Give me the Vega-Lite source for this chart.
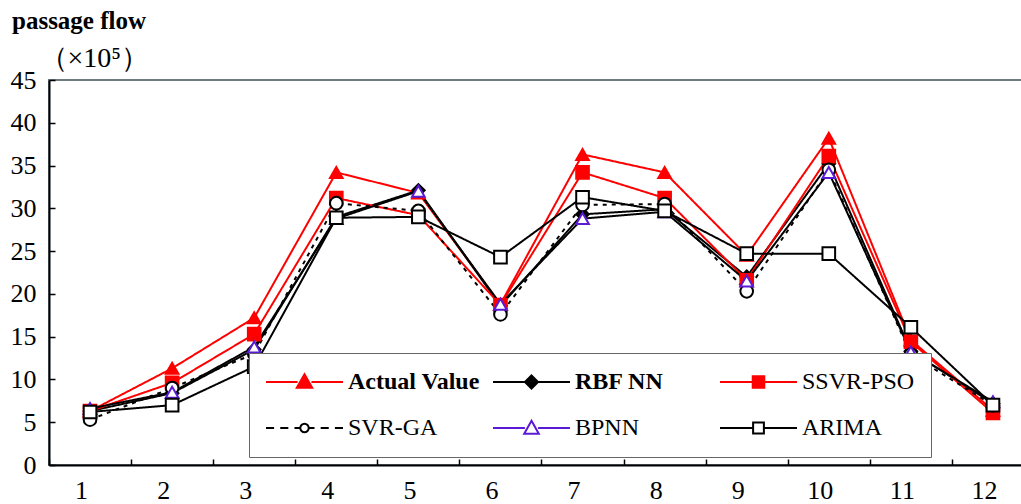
{
  "$schema": "https://vega.github.io/schema/vega-lite/v6.json",
  "width": 985,
  "height": 385,
  "autosize": "none",
  "padding": {"left": 49, "top": 80, "right": 0, "bottom": 39},
  "background": "white",
  "title": {"text": "passage flow", "anchor": "start", "frame": "group", "dx": -37, "offset": 10, "font": "Liberation Serif", "fontSize": 25, "fontWeight": "bold", "color": "black"},
  "config": {"view": {"stroke": "#6e7b80", "strokeWidth": 2}, "font": "Liberation Serif"},
  "data": {"values": [
    {"period": 1, "model": "Actual Value", "flow": 6.3}, {"period": 2, "model": "Actual Value", "flow": 11.3}, {"period": 3, "model": "Actual Value", "flow": 17.2}, {"period": 4, "model": "Actual Value", "flow": 34.2}, {"period": 5, "model": "Actual Value", "flow": 31.8}, {"period": 6, "model": "Actual Value", "flow": 18.8}, {"period": 7, "model": "Actual Value", "flow": 36.3}, {"period": 8, "model": "Actual Value", "flow": 34.2}, {"period": 9, "model": "Actual Value", "flow": 24.5}, {"period": 10, "model": "Actual Value", "flow": 38.2}, {"period": 11, "model": "Actual Value", "flow": 14.6}, {"period": 12, "model": "Actual Value", "flow": 6.4},
    {"period": 1, "model": "RBF NN", "flow": 6.3}, {"period": 2, "model": "RBF NN", "flow": 8.4}, {"period": 3, "model": "RBF NN", "flow": 13.5}, {"period": 4, "model": "RBF NN", "flow": 29.0}, {"period": 5, "model": "RBF NN", "flow": 32.1}, {"period": 6, "model": "RBF NN", "flow": 18.6}, {"period": 7, "model": "RBF NN", "flow": 29.3}, {"period": 8, "model": "RBF NN", "flow": 29.9}, {"period": 9, "model": "RBF NN", "flow": 22.0}, {"period": 10, "model": "RBF NN", "flow": 35.2}, {"period": 11, "model": "RBF NN", "flow": 13.3}, {"period": 12, "model": "RBF NN", "flow": 7.2},
    {"period": 1, "model": "SSVR-PSO", "flow": 6.3}, {"period": 2, "model": "SSVR-PSO", "flow": 9.6}, {"period": 3, "model": "SSVR-PSO", "flow": 15.3}, {"period": 4, "model": "SSVR-PSO", "flow": 31.2}, {"period": 5, "model": "SSVR-PSO", "flow": 29.2}, {"period": 6, "model": "SSVR-PSO", "flow": 18.7}, {"period": 7, "model": "SSVR-PSO", "flow": 34.2}, {"period": 8, "model": "SSVR-PSO", "flow": 31.2}, {"period": 9, "model": "SSVR-PSO", "flow": 21.6}, {"period": 10, "model": "SSVR-PSO", "flow": 36.1}, {"period": 11, "model": "SSVR-PSO", "flow": 14.4}, {"period": 12, "model": "SSVR-PSO", "flow": 6.1},
    {"period": 1, "model": "SVR-GA", "flow": 5.3}, {"period": 2, "model": "SVR-GA", "flow": 9.0}, {"period": 3, "model": "SVR-GA", "flow": 13.0}, {"period": 4, "model": "SVR-GA", "flow": 30.6}, {"period": 5, "model": "SVR-GA", "flow": 29.7}, {"period": 6, "model": "SVR-GA", "flow": 17.6}, {"period": 7, "model": "SVR-GA", "flow": 30.4}, {"period": 8, "model": "SVR-GA", "flow": 30.5}, {"period": 9, "model": "SVR-GA", "flow": 20.3}, {"period": 10, "model": "SVR-GA", "flow": 34.5}, {"period": 11, "model": "SVR-GA", "flow": 12.9}, {"period": 12, "model": "SVR-GA", "flow": 7.0},
    {"period": 1, "model": "BPNN", "flow": 6.6}, {"period": 2, "model": "BPNN", "flow": 8.5}, {"period": 3, "model": "BPNN", "flow": 13.8}, {"period": 4, "model": "BPNN", "flow": 28.8}, {"period": 5, "model": "BPNN", "flow": 32.0}, {"period": 6, "model": "BPNN", "flow": 18.8}, {"period": 7, "model": "BPNN", "flow": 28.8}, {"period": 8, "model": "BPNN", "flow": 29.6}, {"period": 9, "model": "BPNN", "flow": 21.5}, {"period": 10, "model": "BPNN", "flow": 34.2}, {"period": 11, "model": "BPNN", "flow": 13.2}, {"period": 12, "model": "BPNN", "flow": 7.4},
    {"period": 1, "model": "ARIMA", "flow": 6.2}, {"period": 2, "model": "ARIMA", "flow": 7.0}, {"period": 3, "model": "ARIMA", "flow": 11.5}, {"period": 4, "model": "ARIMA", "flow": 28.9}, {"period": 5, "model": "ARIMA", "flow": 29.0}, {"period": 6, "model": "ARIMA", "flow": 24.3}, {"period": 7, "model": "ARIMA", "flow": 31.3}, {"period": 8, "model": "ARIMA", "flow": 29.7}, {"period": 9, "model": "ARIMA", "flow": 24.7}, {"period": 10, "model": "ARIMA", "flow": 24.7}, {"period": 11, "model": "ARIMA", "flow": 16.1}, {"period": 12, "model": "ARIMA", "flow": 7.0}
  ]},
  "encoding": {
    "x": {"field": "period", "type": "ordinal", "scale": {"type": "band", "paddingInner": 0, "paddingOuter": 0},
      "axis": {"title": null, "labelAngle": 0, "tickBand": "extent", "tickSize": -6, "tickColor": "black", "tickWidth": 1.5, "domainColor": "black", "domainWidth": 2, "labelFont": "Liberation Serif", "labelFontSize": 26, "labelColor": "black", "labelPadding": 18, "labelOffset": -9}},
    "y": {"field": "flow", "type": "quantitative", "scale": {"domain": [0, 45]},
      "axis": {"values": [0, 5, 10, 15, 20, 25, 30, 35, 40, 45], "grid": false, "tickSize": -6, "tickColor": "black", "tickWidth": 1.5, "domainColor": "black", "domainWidth": 2, "labelFont": "Liberation Serif", "labelFontSize": 26, "labelColor": "black", "labelPadding": 19,
        "title": "（×10⁵）", "titleAngle": 0, "titleX": -10, "titleY": -22, "titleAlign": "left", "titleBaseline": "middle", "titleFont": "Liberation Serif", "titleFontSize": 28, "titleFontWeight": "normal", "titleColor": "black"}}
  },
  "layer": [
    {
      "mark": {"type": "line", "strokeWidth": 2},
      "encoding": {
        "color": {"field": "model", "type": "nominal", "legend": null,
          "scale": {"domain": ["Actual Value", "RBF NN", "SSVR-PSO", "SVR-GA", "BPNN", "ARIMA"], "range": ["#ff0000", "#000000", "#ff0000", "#000000", "#000000", "#000000"]}},
        "strokeDash": {"field": "model", "type": "nominal", "legend": null,
          "scale": {"domain": ["Actual Value", "RBF NN", "SSVR-PSO", "SVR-GA", "BPNN", "ARIMA"], "range": [[1, 0], [1, 0], [1, 0], [4, 5], [1, 0], [1, 0]]}}
      }
    },
    {
      "mark": {"type": "point", "filled": true, "size": 160, "strokeWidth": 2, "opacity": 1},
      "encoding": {
        "shape": {"field": "model", "type": "nominal", "legend": null,
          "scale": {"domain": ["Actual Value", "RBF NN", "SSVR-PSO", "SVR-GA", "BPNN", "ARIMA"], "range": ["triangle-up", "diamond", "square", "circle", "triangle-up", "square"]}},
        "fill": {"field": "model", "type": "nominal", "legend": null,
          "scale": {"domain": ["Actual Value", "RBF NN", "SSVR-PSO", "SVR-GA", "BPNN", "ARIMA"], "range": ["#ff0000", "#000000", "#ff0000", "#ffffff", "#ffffff", "#ffffff"]}},
        "stroke": {"field": "model", "type": "nominal", "legend": null,
          "scale": {"domain": ["Actual Value", "RBF NN", "SSVR-PSO", "SVR-GA", "BPNN", "ARIMA"], "range": ["#ff0000", "#000000", "#ff0000", "#000000", "#5b1bd6", "#000000"]}}
      }
    },
    {
      "mark": {"type": "point", "filled": true, "opacity": 0, "size": 10},
      "encoding": {
        "shape": {"field": "model", "type": "nominal",
          "scale": {"domain": ["Actual Value", "RBF NN", "SSVR-PSO", "SVR-GA", "BPNN", "ARIMA"], "range": [
            "M-1,0H-0.18M0.18,0H1M0,-0.2L0.2,0.15L-0.2,0.15Z",
            "M-1,0H-0.15M0.15,0H1M0,-0.17L0.17,0L0,0.17L-0.17,0Z",
            "M-1,0H-0.15M0.15,0H1M-0.15,-0.15H0.15V0.15H-0.15Z",
            "M-1,0H-0.79M-0.63,0H-0.42M-0.26,0H-0.13M0.13,0H0.26M0.42,0H0.63M0.79,0H1M-0.11,0A0.11,0.11,0,1,0,0.11,0A0.11,0.11,0,1,0,-0.11,0Z",
            "M-1,0H-0.17M0.17,0H1M0,-0.19L0.19,0.15L-0.19,0.15Z",
            "M-1,0H-0.14M0.14,0H1M-0.14,-0.14H0.14V0.14H-0.14Z"]},
          "legend": {"title": null, "orient": "none", "direction": "horizontal", "legendX": 200, "legendY": 273, "columns": 3, "gridAlign": "all", "symbolSize": 5929, "symbolStrokeWidth": 2, "symbolOpacity": 1, "labelFont": "Liberation Serif", "labelFontSize": 24, "labelColor": "black", "labelOffset": 4, "labelLimit": 400, "columnPadding": 12, "rowPadding": 20, "padding": 16, "clipHeight": 26, "fillColor": "white", "strokeColor": "#666666", "labelFontWeight": {"expr": "datum.label == 'Actual Value' || datum.label == 'RBF NN' ? 'bold' : 'normal'"}}},
        "fill": {"field": "model", "type": "nominal",
          "scale": {"domain": ["Actual Value", "RBF NN", "SSVR-PSO", "SVR-GA", "BPNN", "ARIMA"], "range": ["#ff0000", "#000000", "#ff0000", "#ffffff", "#ffffff", "#ffffff"]},
          "legend": {"title": null, "orient": "none", "direction": "horizontal", "legendX": 200, "legendY": 273, "columns": 3, "gridAlign": "all", "symbolSize": 5929, "symbolStrokeWidth": 2, "symbolOpacity": 1, "labelFont": "Liberation Serif", "labelFontSize": 24, "labelColor": "black", "labelOffset": 4, "labelLimit": 400, "columnPadding": 12, "rowPadding": 20, "padding": 16, "clipHeight": 26, "fillColor": "white", "strokeColor": "#666666", "labelFontWeight": {"expr": "datum.label == 'Actual Value' || datum.label == 'RBF NN' ? 'bold' : 'normal'"}}},
        "stroke": {"field": "model", "type": "nominal",
          "scale": {"domain": ["Actual Value", "RBF NN", "SSVR-PSO", "SVR-GA", "BPNN", "ARIMA"], "range": ["#ff0000", "#000000", "#ff0000", "#000000", "#5b1bd6", "#000000"]},
          "legend": {"title": null, "orient": "none", "direction": "horizontal", "legendX": 200, "legendY": 273, "columns": 3, "gridAlign": "all", "symbolSize": 5929, "symbolStrokeWidth": 2, "symbolOpacity": 1, "labelFont": "Liberation Serif", "labelFontSize": 24, "labelColor": "black", "labelOffset": 4, "labelLimit": 400, "columnPadding": 12, "rowPadding": 20, "padding": 16, "clipHeight": 26, "fillColor": "white", "strokeColor": "#666666", "labelFontWeight": {"expr": "datum.label == 'Actual Value' || datum.label == 'RBF NN' ? 'bold' : 'normal'"}}}
      }
    }
  ],
  "resolve": {"scale": {"shape": "independent", "fill": "independent", "stroke": "independent"}}
}
